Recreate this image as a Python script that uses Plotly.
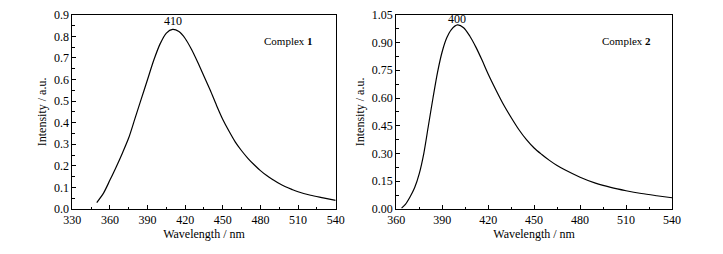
import plotly.graph_objects as go

# Complex 1 emission spectrum
wl1 = [349.5, 355, 360, 365, 370, 375, 380, 385, 390, 395, 400, 405, 410, 415, 420,
       425, 430, 435, 440, 445, 450, 455, 460, 465, 470, 475, 480, 485, 490, 495,
       500, 505, 510, 520, 530, 540]
int1 = [0.03, 0.075, 0.134, 0.195, 0.26, 0.33, 0.42, 0.51, 0.60, 0.69, 0.765, 0.815,
        0.832, 0.822, 0.79, 0.74, 0.68, 0.615, 0.55, 0.48, 0.415, 0.36, 0.31, 0.27,
        0.235, 0.205, 0.178, 0.155, 0.136, 0.118, 0.103, 0.091, 0.080, 0.064, 0.052, 0.040]

# Complex 2 emission spectrum
wl2 = [363.5, 366, 369, 372, 375, 378, 381, 384, 387, 390, 393, 396, 400, 404, 408,
       412, 416, 420, 425, 430, 435, 440, 445, 450, 455, 460, 465, 470, 480, 490,
       500, 510, 520, 530, 540]
int2 = [0.005, 0.025, 0.065, 0.115, 0.19, 0.30, 0.45, 0.60, 0.74, 0.85, 0.925, 0.97,
        0.995, 0.98, 0.935, 0.875, 0.805, 0.73, 0.645, 0.565, 0.495, 0.43, 0.375, 0.33,
        0.295, 0.263, 0.235, 0.212, 0.172, 0.14, 0.117, 0.099, 0.084, 0.072, 0.061]

x1_ticks = [330, 360, 390, 420, 450, 480, 510, 540]
x2_ticks = [360, 390, 420, 450, 480, 510, 540]
y1_ticks = [0.0, 0.1, 0.2, 0.3, 0.4, 0.5, 0.6, 0.7, 0.8, 0.9]
y2_ticks = [0.00, 0.15, 0.30, 0.45, 0.60, 0.75, 0.90, 1.05]

peak1 = (410, 0.832)
peak2 = (400, 0.995)

FONT = "Liberation Serif"
fig = go.Figure()
fig.add_trace(go.Scatter(x=wl1, y=int1, mode="lines", line=dict(color="black", width=1.2, shape="spline", smoothing=0.8),
                         xaxis="x", yaxis="y", showlegend=False))
fig.add_trace(go.Scatter(x=wl2, y=int2, mode="lines", line=dict(color="black", width=1.2, shape="spline", smoothing=0.8),
                         xaxis="x2", yaxis="y2", showlegend=False))

axis_common = dict(showgrid=False, zeroline=False, showline=True, linecolor="black", linewidth=1,
                   mirror=True, ticks="inside", ticklen=4, tickcolor="black", automargin=False,
                   tickfont=dict(family=FONT, size=12, color="black"))

YDOM = [0.177, 0.942]
fig.update_layout(
    width=723, height=254,
    margin=dict(l=0, r=0, t=0, b=0),
    paper_bgcolor="white", plot_bgcolor="white",
    font=dict(family=FONT, color="black"),
    xaxis=dict(domain=[0.1, 0.4643], range=[330, 540], tickvals=x1_ticks, anchor="y",
               minor=dict(dtick=15, tick0=330, ticks="inside", ticklen=2.5, tickcolor="black"),
               title=dict(text="Wavelength / nm", font=dict(family=FONT, size=12), standoff=2),
               **axis_common),
    yaxis=dict(domain=YDOM, range=[0, 0.9], tickvals=y1_ticks, tickformat=".1f", anchor="x",
               minor=dict(dtick=0.05, tick0=0, ticks="inside", ticklen=2.5, tickcolor="black"),
               title=dict(text="Intensity / a.u.", font=dict(family=FONT, size=12), standoff=4),
               **axis_common),
    xaxis2=dict(domain=[0.548, 0.9295], range=[360, 540], tickvals=x2_ticks, anchor="y2",
                minor=dict(dtick=15, tick0=360, ticks="inside", ticklen=2.5, tickcolor="black"),
                title=dict(text="Wavelength / nm", font=dict(family=FONT, size=12), standoff=2),
                **axis_common),
    yaxis2=dict(domain=YDOM, range=[0, 1.05], tickvals=y2_ticks, tickformat=".2f", anchor="x2",
                minor=dict(dtick=0.075, tick0=0, ticks="inside", ticklen=2.5, tickcolor="black"),
                title=dict(text="Intensity / a.u.", font=dict(family=FONT, size=12), standoff=4),
                **axis_common),
)

fig.add_annotation(x=peak1[0], y=peak1[1], xref="x", yref="y", text=str(peak1[0]), showarrow=False,
                   yanchor="bottom", yshift=-1, font=dict(family=FONT, size=12))
fig.add_annotation(x=peak2[0], y=peak2[1], xref="x2", yref="y2", text=str(peak2[0]), showarrow=False,
                   yanchor="bottom", yshift=-3, font=dict(family=FONT, size=12))
fig.add_annotation(x=0.4355, y=0.87, xref="paper", yref="paper", text="Complex <b>1</b>", showarrow=False,
                   xanchor="right", font=dict(family=FONT, size=11))
fig.add_annotation(x=0.903, y=0.87, xref="paper", yref="paper", text="Complex <b>2</b>", showarrow=False,
                   xanchor="right", font=dict(family=FONT, size=11))

fig.write_html("out.html", config={"displayModeBar": False},
               post_script="document.body.style.margin='0';")
